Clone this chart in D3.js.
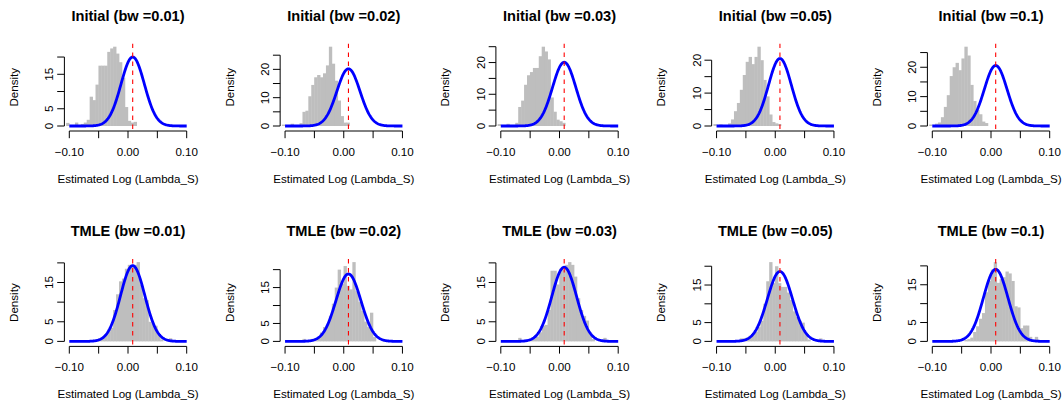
<!DOCTYPE html>
<html>
<head>
<meta charset="utf-8">
<script src="https://cdn.jsdelivr.net/npm/d3@7"></script>
<style>
  body { margin: 0; background: #fff; }
  svg { display: block; }
  text { font-family: "Liberation Sans", Arial, Helvetica, sans-serif; fill: #000; }
</style>
</head>
<body>
<svg id="chart" width="1064" height="402"></svg>
<script>
// ---- data -------------------------------------------------------------
const bandwidths = ["0.01", "0.02", "0.03", "0.05", "0.1"];
const estimatorNames = ["Initial", "TMLE"];
const xTickValues = [-0.10, -0.05, 0.00, 0.05, 0.10];
const xTickLabels = ["\u22120.10", "\u22120.05", "0.00", "0.05", "0.10"];
const xAxisTitle = "Estimated Log (Lambda_S)";
const yAxisTitle = "Density";

// histogram bins: width 0.005, first bin starts at -0.105
const binStart = -0.105;
const binWidth = 0.005;
const trueValue = 0.008;

// bin densities of the initial estimator, one array per bandwidth
const initialBw001 = [0.9, 0, 0, 1.0, 0, 0.6, 1.0, 1.8, 8.5, 7.5, 12, 17.5, 17.5, 17.5, 21.5, 22.5, 23, 21, 18.5, 14, 5.5, 1.5, 1, 1.2];
const initialBw002 = [0.5, 0, 0, 0.8, 0, 0, 1, 5, 5.4, 10.5, 14.5, 17.2, 18, 17.2, 18.6, 21.4, 28, 22, 16, 9, 3.5, 1.2, 1.2];
const initialBw003 = [0.6, 0, 0, 0.7, 0, 0, 1, 6, 8, 13, 16, 17, 18.3, 18.3, 22, 25, 23.5, 21, 9, 4.5, 2, 1.5, 1];
const initialBw005 = [0.6, 0, 0.5, 0, 0, 0.8, 2, 4.5, 7, 11, 15.5, 19.5, 21, 18.8, 21, 24.1, 20, 14, 9, 3.5, 1.2, 0.8, 0.6];
const initialBw01  = [0.5, 0, 0.8, 1.2, 3, 6.5, 10.5, 17, 20, 21.5, 19, 23, 27, 24, 14, 8.5, 5.5, 4, 1.5, 1];

// bin densities of the TMLE estimator, one array per bandwidth
const tmleBw001 = [0, 0, 0, 0, 0, 0, 0, 0, 0, 0.4, 0.6, 0.8, 1.2, 1.6, 2.5, 3.5, 8, 12, 15.3, 16, 18.5, 19.5, 19, 19.5, 20.2, 14.5, 11, 10.5, 5, 4.5, 4, 1.8, 0.5, 0, 0, 0.8];
const tmleBw002 = [0, 0, 0, 0, 0, 0, 0, 0.7, 0, 0, 0.7, 0.9, 1.2, 2.5, 4, 4.5, 7, 10.5, 15, 20, 16, 21, 15.5, 14.5, 22.1, 14, 11, 8.5, 5.5, 4, 8, 1.2, 0, 0, 0.7];
const tmleBw003 = [0, 0, 0, 0, 0, 0, 0, 0.9, 0, 0, 0, 0.5, 0.8, 1.2, 2.3, 4, 4.2, 8, 18, 18, 14.5, 18.5, 18.3, 19.5, 20.2, 19.5, 16.5, 11, 8, 6.5, 5.3, 2, 0.6, 0, 0, 0, 0.9];
const tmleBw005 = [0, 0, 0, 0, 0, 0, 0, 0, 0, 0.8, 0.8, 1, 1.5, 2, 2.5, 3.8, 5.5, 10, 16, 21.1, 15.5, 20, 15.5, 14.5, 14.5, 13, 11, 8, 6.5, 5.5, 5, 2, 0.5, 0, 0, 0, 0.8];
const tmleBw01  = [0, 0, 0, 0, 0, 0, 0, 0, 0, 0, 0, 0, 0.4, 0.6, 1, 2.5, 4, 6, 7.5, 13, 16, 19, 21, 15.5, 16.5, 17, 18.5, 18, 16, 9.3, 9, 3.5, 4.2, 4.2, 1.2, 0, 1.2];

// standard deviation of the normal reference curve centred on the true value
const initialCurveSd = [0.01995, 0.01975, 0.01985, 0.01946, 0.01937];
const tmleCurveSd    = [0.02067, 0.02122, 0.02111, 0.02145, 0.02089];

const histograms = [
  [initialBw001, initialBw002, initialBw003, initialBw005, initialBw01],
  [tmleBw001, tmleBw002, tmleBw003, tmleBw005, tmleBw01]
];
const curveSds = [initialCurveSd, tmleCurveSd];

// ---- layout -------------------------------------------------------------
const svg = d3.select("#chart");
const colStep = 215.75, rowStep = 215.4;
const base = {
  xLo: 69.3, xHi: 186.7,       // pixel positions of -0.10 and 0.10
  plotLeft: 64.6, plotRight: 191.4,
  zeroY: 126, topY: 46.7,      // density 0 and the maximum bar height
  plotTop: 43.5, xAxisY: 131
};
const fontSize = 11.6;
const labelGap = 10.4;         // minimum free space between two tick labels

function dnorm(x, mu, sd) {
  return Math.exp(-0.5 * ((x - mu) / sd) ** 2) / (sd * Math.sqrt(2 * Math.PI));
}

const measurer = svg.append("text").attr("font-size", fontSize).attr("visibility", "hidden");
function textWidth(s) { measurer.text(s); return measurer.node().getComputedTextLength(); }

// keep only labels that leave enough room after the previous drawn one
function thinLabels(items) {
  const kept = [];
  let lastEdge = -Infinity;
  items.forEach(it => {
    const w = textWidth(it.label);
    if (kept.length === 0 || it.pos - w / 2 - lastEdge >= labelGap) {
      kept.push(it);
      lastEdge = it.pos + w / 2;
    }
  });
  return kept;
}

estimatorNames.forEach((est, r) => {
  bandwidths.forEach((bw, c) => {
    const dx = c * colStep, dy = r * rowStep;
    const values = histograms[r][c];
    const maxDensity = d3.max(values);

    const x = d3.scaleLinear().domain([-0.1, 0.1]).range([base.xLo + dx, base.xHi + dx]);
    const y = d3.scaleLinear().domain([0, maxDensity]).range([base.zeroY + dy, base.topY + dy]);

    const g = svg.append("g");
    const clipId = `clip-${r}-${c}`;
    svg.append("clipPath").attr("id", clipId)
      .append("rect")
      .attr("x", base.plotLeft + dx).attr("y", base.plotTop + dy)
      .attr("width", base.plotRight - base.plotLeft)
      .attr("height", base.xAxisY - base.plotTop);

    const plot = g.append("g").attr("clip-path", `url(#${clipId})`);

    // histogram bars (slight overlap hides seams between neighbours)
    plot.selectAll("rect.bar")
      .data(values.map((v, i) => ({ x0: binStart + i * binWidth, x1: binStart + (i + 1) * binWidth, v })).filter(d => d.v > 0))
      .join("rect")
      .attr("class", "bar")
      .attr("x", d => x(d.x0) - 0.2)
      .attr("width", d => x(d.x1) - x(d.x0) + 0.4)
      .attr("y", d => y(d.v))
      .attr("height", d => y(0) - y(d.v))
      .attr("fill", "#bebebe");

    // normal curve at the true value
    const sd = curveSds[r][c];
    const pts = d3.range(0, 201).map(i => -0.1 + i * 0.001).map(v => [v, dnorm(v, trueValue, sd)]);
    plot.append("path")
      .attr("d", d3.line().x(d => x(d[0])).y(d => y(d[1]))(pts))
      .attr("fill", "none")
      .attr("stroke", "#0000ff")
      .attr("stroke-width", 2.8)
      .attr("stroke-linejoin", "round");

    // true value reference line
    plot.append("line")
      .attr("x1", x(trueValue)).attr("x2", x(trueValue))
      .attr("y1", base.plotTop + dy).attr("y2", base.xAxisY + dy)
      .attr("stroke", "#ff0000")
      .attr("stroke-width", 1.1)
      .attr("stroke-dasharray", "4.5,4.5");

    // x axis
    const xAxisY = base.xAxisY + dy;
    g.append("line")
      .attr("x1", x(-0.1)).attr("x2", x(0.1))
      .attr("y1", xAxisY).attr("y2", xAxisY)
      .attr("stroke", "#000");
    g.selectAll("line.xt").data(xTickValues).join("line")
      .attr("class", "xt")
      .attr("x1", d => x(d)).attr("x2", d => x(d))
      .attr("y1", xAxisY).attr("y2", xAxisY + 7.2)
      .attr("stroke", "#000");
    const xLabels = thinLabels(xTickValues.map((v, i) => ({ pos: x(v), label: xTickLabels[i] })));
    g.selectAll("text.xl").data(xLabels).join("text")
      .attr("class", "xl")
      .attr("x", d => d.pos).attr("y", xAxisY + 24.5)
      .attr("text-anchor", "middle").attr("font-size", fontSize)
      .text(d => d.label);

    // y axis
    const yTicks = y.ticks(5);
    const axisX = base.plotLeft + dx - 0.2;
    g.append("line")
      .attr("x1", axisX).attr("x2", axisX)
      .attr("y1", y(yTicks[0])).attr("y2", y(yTicks[yTicks.length - 1]))
      .attr("stroke", "#000");
    g.selectAll("line.yt").data(yTicks).join("line")
      .attr("class", "yt")
      .attr("x1", axisX).attr("x2", axisX - 7.2)
      .attr("y1", d => y(d)).attr("y2", d => y(d))
      .attr("stroke", "#000");
    const yLabels = thinLabels(yTicks.map(v => ({ pos: -y(v), label: String(v), v })));
    g.selectAll("text.yl").data(yLabels).join("text")
      .attr("class", "yl")
      .attr("transform", d => `translate(${axisX - 11},${y(d.v)}) rotate(-90)`)
      .attr("text-anchor", "middle").attr("font-size", fontSize)
      .text(d => d.label);

    // titles
    g.append("text")
      .attr("transform", `translate(${axisX - 46.5},${(base.plotTop + base.xAxisY) / 2 + dy}) rotate(-90)`)
      .attr("text-anchor", "middle").attr("font-size", fontSize)
      .text(yAxisTitle);
    g.append("text")
      .attr("x", (base.plotLeft + base.plotRight) / 2 + dx).attr("y", xAxisY + 51.5)
      .attr("text-anchor", "middle").attr("font-size", fontSize)
      .text(xAxisTitle);
    g.append("text")
      .attr("x", (base.plotLeft + base.plotRight) / 2 + dx).attr("y", 20.7 + dy)
      .attr("text-anchor", "middle").attr("font-size", 14.6).attr("font-weight", "bold")
      .text(`${est} (bw =${bw})`);
  });
});
measurer.remove();
</script>
</body>
</html>
